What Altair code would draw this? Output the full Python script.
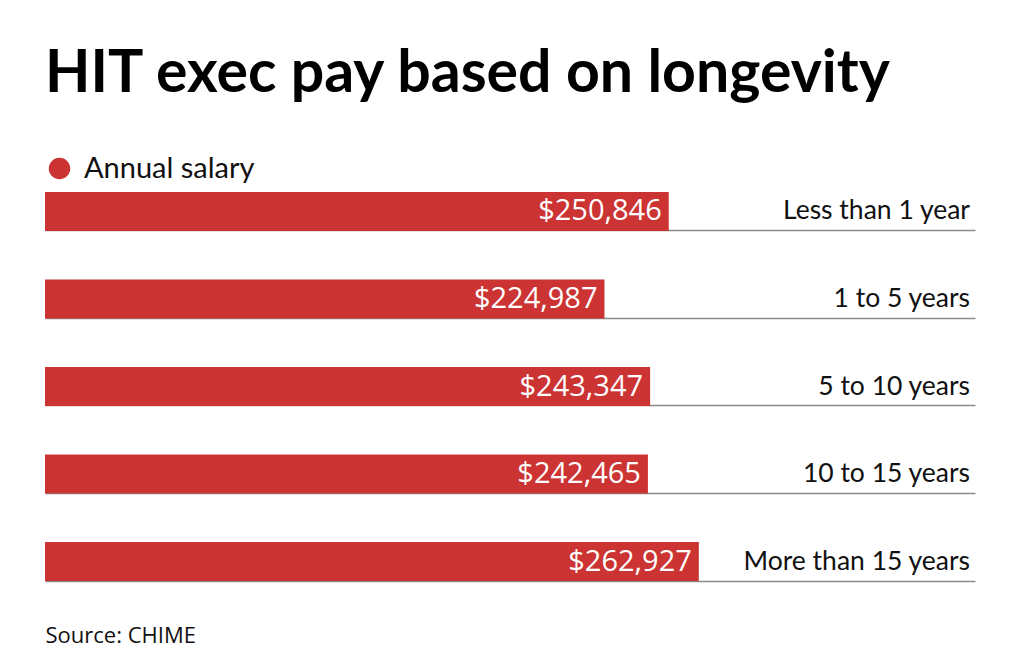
import altair as alt
import pandas as pd

categories = ["Less than 1 year", "1 to 5 years", "5 to 10 years", "10 to 15 years", "More than 15 years"]
salaries = [250846, 224987, 243347, 242465, 262927]
value_labels = ["$250,846", "$224,987", "$243,347", "$242,465", "$262,927"]
series_name = "Annual salary"
title_text = "HIT exec pay based on longevity"
source_text = "Source: CHIME"
XMAX = 374000

df = pd.DataFrame({
    "cat": categories,
    "salary": salaries,
    "label": value_labels,
    "series": [series_name] * len(categories),
})

y = alt.Y(
    "cat:N", sort=categories,
    scale=alt.Scale(paddingInner=0.555, paddingOuter=0),
    axis=alt.Axis(title=None, labels=False, ticks=False, domain=False, grid=True,
                  gridColor="#8a8a8a", gridWidth=1.5, bandPosition=1),
)
x = alt.X(
    "salary:Q",
    scale=alt.Scale(domain=[0, XMAX], nice=False, zero=True),
    axis=alt.Axis(title=source_text, labels=False, ticks=False, domain=False, grid=False,
                  titleAnchor="start", titleAlign="left", titleFont="Open Sans",
                  titleFontSize=22, titleFontWeight="normal", titleColor="#111",
                  titlePadding=44),
)

bars = alt.Chart(df).mark_bar().encode(
    x=x, y=y,
    color=alt.Color("series:N", scale=alt.Scale(range=["#cc3333"]),
                    legend=alt.Legend(orient="none", legendX=0, legendY=-38, title=None,
                                      symbolType="circle", symbolSize=460, labelOffset=10,
                                      labelFont="Lato", labelFontSize=29, labelColor="#111",
                                      labelLimit=400,
                                      padding=0, symbolStrokeWidth=0, symbolOpacity=1)),
)

values = alt.Chart(df).mark_text(align="right", baseline="middle", dx=-7, color="white",
                                  font="Open Sans", fontSize=29).encode(
    x=x, y=y, text="label:N")

cats = alt.Chart(df).mark_text(align="right", baseline="middle", dx=-5, color="#111",
                                font="Lato", fontSize=26.5).encode(
    x=alt.datum(XMAX), y=y, text="cat:N")

chart = alt.layer(bars, values, cats).properties(
    width=930, height=389,
    padding={"left": 37, "top": 184, "right": 30, "bottom": 80},
    autosize=alt.AutoSizeParams(type="none"),
    title=alt.TitleParams(title_text, anchor="start", font="Lato", fontSize=59,
                          fontWeight="bold", color="#000", offset=50),
).configure_view(stroke=None)

chart.save("out.html", embed_options={"renderer": "svg", "actions": False})
